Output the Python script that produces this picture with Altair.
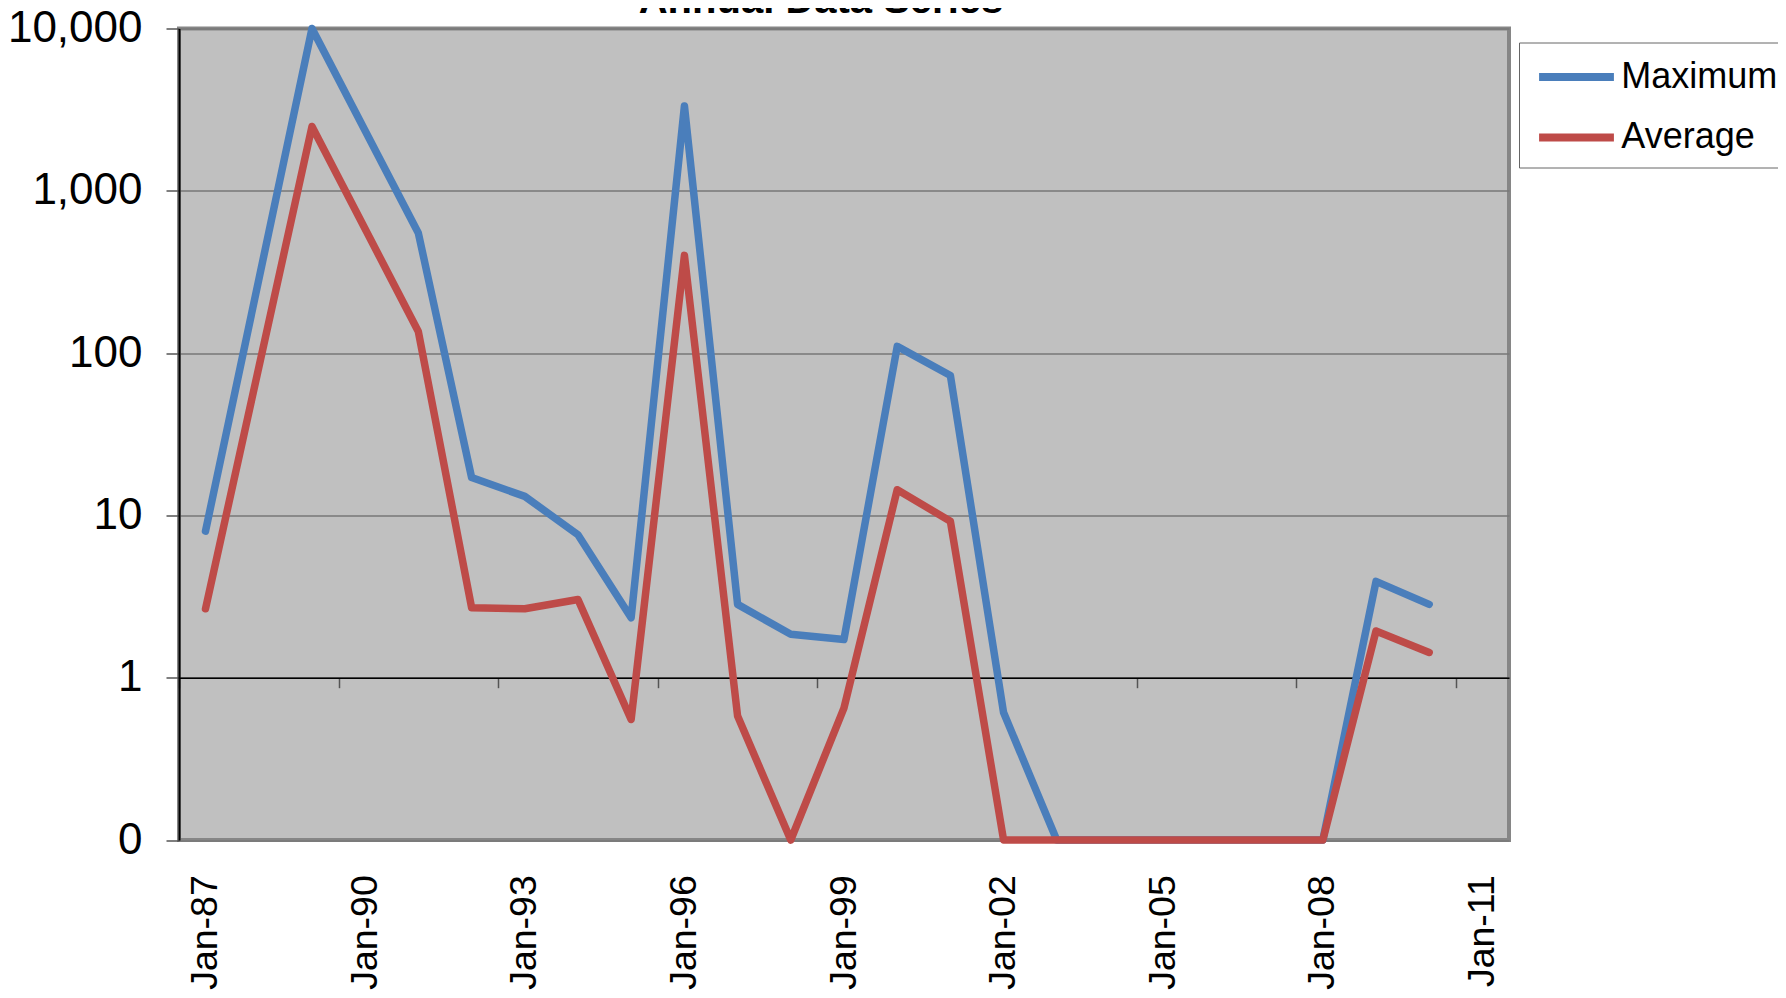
import altair as alt
import pandas as pd

# ---- data (0 = zero value, drawn on the 0.1 floor of the log axis) ----
years = [1987, 1989, 1991, 1992, 1993, 1994, 1995, 1996, 1997, 1998, 1999, 2000,
         2001, 2002, 2003, 2004, 2005, 2006, 2007, 2008, 2009, 2010]
maximum = [8.0, 10000, 550, 17.1, 13.1, 7.6, 2.34, 3330, 2.83, 1.85, 1.72, 110,
           72.7, 0.61, 0, 0, 0, 0, 0, 0, 3.92, 2.83]
average = [2.66, 2490, 136, 2.70, 2.66, 3.03, 0.553, 400, 0.58, 0, 0.65, 14.4,
           9.2, 0, 0, 0, 0, 0, 0, 0, 1.94, 1.43]
series_names = ["Maximum", "Average"]
series_colors = ["#4A7EBB", "#BE4B48"]
tick_years = [1987, 1990, 1993, 1996, 1999, 2002, 2005, 2008, 2011]
y_ticks = [0.1, 1, 10, 100, 1000, 10000]

rows = []
for name, vals in zip(series_names, [maximum, average]):
    for y, v in zip(years, vals):
        rows.append({"date": f"{y}-07-02T00:00:00", "series": name, "value": v})
df = pd.DataFrame(rows)

FONT = "Liberation Sans"

x_enc = alt.X(
    "date:T",
    scale=alt.Scale(domain=[alt.DateTime(year=1987, month=1, date=1),
                            alt.DateTime(year=2012, month=1, date=1)], nice=False),
    axis=alt.Axis(
        values=[alt.DateTime(year=y, month=1, date=1) for y in tick_years],
        format="%b-%y", labelAngle=270, labelOffset=26.6, offset=-162.3,
        tickSize=10, tickColor="#555555", tickWidth=1.5,
        domainColor="black", domainWidth=1.5,
        labelPadding=187, labelFontSize=37.5, labelFont=FONT, labelColor="black",
        grid=False, title=None, labelOverlap=False, labelFlush=False, labelBound=False,
    ),
)
y_enc = alt.Y(
    "plotval:Q",
    scale=alt.Scale(type="log", domain=[0.1, 10000], nice=False),
    axis=alt.Axis(
        values=y_ticks,
        labelExpr="datum.value < 1 ? '0' : format(datum.value, ',')",
        tickSize=13, tickColor="#555555", tickWidth=1.5,
        domainColor="black", domainWidth=2,
        grid=True, gridColor="#777777", gridWidth=1.5,
        labelPadding=24, labelFontSize=44, labelFont=FONT, labelColor="black",
        title=None,
    ),
)
color_enc = alt.Color(
    "series:N",
    scale=alt.Scale(domain=series_names, range=series_colors),
    legend=alt.Legend(
        orient="none", legendX=1340, legendY=14, title=None,
        symbolType="M-2,0H2", symbolSize=1400, symbolStrokeWidth=8,
        labelFontSize=36, labelFont=FONT, labelColor="black", labelOffset=21.8,
        fillColor="white", strokeColor="#666666", padding=11.5, symbolOffset=23,
        rowPadding=19.4,
    ),
)

base = alt.Chart(df).transform_calculate(plotval="max(datum.value, 0.1)")

layers = [
    base.transform_filter(alt.datum.series == name)
    .mark_line(strokeWidth=7.5, strokeCap="round", strokeJoin="round")
    .encode(x=x_enc, y=y_enc, color=color_enc)
    for name in series_names
]

chart = alt.layer(*layers).properties(
    width=1330, height=811.5,
    padding={"left": 171, "top": 20.5, "right": 269, "bottom": 150},
    autosize=alt.AutoSizeParams(type="none"),
    title=alt.TitleParams("Annual Data Series", fontSize=40, font=FONT, fontWeight="bold",
                          anchor="middle", frame="group", dx=-23, dy=11, offset=-35.5,
                          baseline="alphabetic", color="black"),
).configure_view(fill="#C0C0C0", stroke="#868686", strokeWidth=4)

chart.save("out.html", embed_options={"renderer": "svg", "actions": False})
